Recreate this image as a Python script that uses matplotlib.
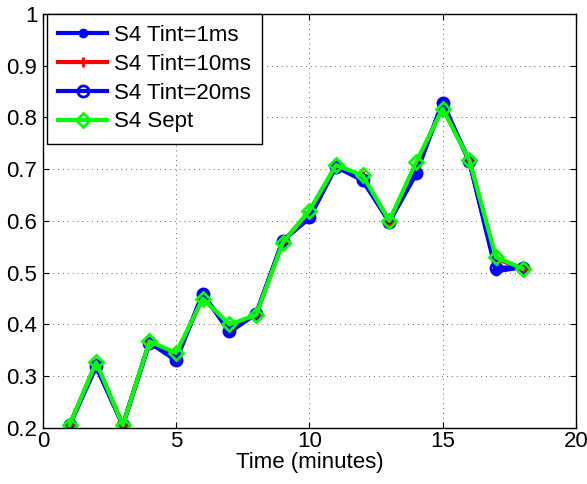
import matplotlib

matplotlib.use("Agg")
import matplotlib.pyplot as plt

plt.rcParams["font.family"] = ["Liberation Sans", "DejaVu Sans"]

time_min = [1, 2, 3, 4, 5, 6, 7, 8, 9, 10, 11, 12, 13, 14, 15, 16, 17, 18]
s4_1ms = [0.205, 0.318, 0.205, 0.365, 0.330, 0.460, 0.385, 0.420, 0.562, 0.605,
          0.705, 0.678, 0.598, 0.690, 0.830, 0.715, 0.503, 0.510]
s4_10ms = [0.205, 0.325, 0.205, 0.366, 0.340, 0.452, 0.396, 0.419, 0.559, 0.618,
           0.707, 0.686, 0.600, 0.708, 0.820, 0.717, 0.527, 0.508]
s4_20ms = [0.205, 0.320, 0.205, 0.365, 0.332, 0.458, 0.388, 0.420, 0.561, 0.608,
           0.705, 0.680, 0.598, 0.693, 0.828, 0.715, 0.510, 0.510]
s4_sept = [0.205, 0.327, 0.205, 0.367, 0.345, 0.450, 0.400, 0.418, 0.558, 0.620,
           0.708, 0.688, 0.600, 0.713, 0.817, 0.718, 0.530, 0.508]

fig = plt.figure(figsize=(5.87, 4.84), dpi=100)
ax = fig.add_axes([0.073, 0.116, 0.908, 0.855])

ax.plot(time_min, s4_1ms, color="#0000ff", lw=3, marker="o", ms=6, label="S4 Tint=1ms")
ax.plot(time_min, s4_10ms, color="#ff0000", lw=3, marker="+", ms=7, mew=2, label="S4 Tint=10ms")
ax.plot(time_min, s4_20ms, color="#0000ff", lw=3, marker="o", ms=8, mfc="none", mew=2,
        label="S4 Tint=20ms")
ax.plot(time_min, s4_sept, color="#00ff00", lw=3, marker="D", ms=7, mfc="none", mew=2,
        label="S4 Sept")

ax.set_xlim(0, 20)
ax.set_ylim(0.2, 1)
ax.set_xticks([0, 5, 10, 15, 20])
ax.set_yticks([0.2, 0.3, 0.4, 0.5, 0.6, 0.7, 0.8, 0.9, 1])
ax.set_yticklabels(["0.2", "0.3", "0.4", "0.5", "0.6", "0.7", "0.8", "0.9", "1"])
ax.tick_params(direction="in", labelsize=16, top=True, right=True, length=4)
ax.tick_params(axis="x", pad=2)
ax.tick_params(axis="y", pad=4)
ax.grid(True, linestyle=(0, (1, 4)), color="black", lw=0.7, alpha=0.6)
ax.set_xlabel("Time (minutes)", fontsize=16, labelpad=0)
for spine in ax.spines.values():
    spine.set_linewidth(1)

leg = ax.legend(loc="upper left", fontsize=16, fancybox=False, edgecolor="black",
                framealpha=1, borderaxespad=0.0, bbox_to_anchor=(0.008, 1.0),
                handlelength=2.2, numpoints=1, borderpad=0.5,
                labelspacing=0.35, handletextpad=0.3)
leg.get_frame().set_linewidth(1)

fig.savefig("out.png", dpi=100)
